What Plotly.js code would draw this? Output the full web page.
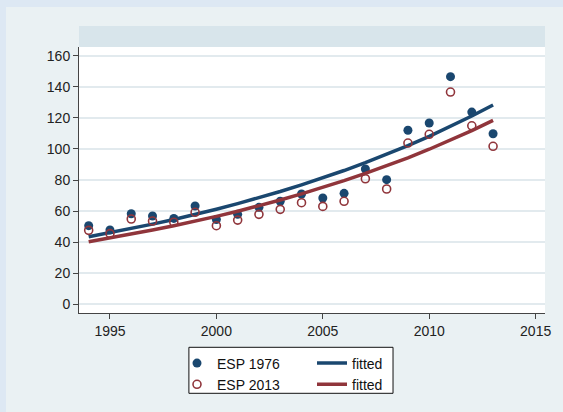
<!DOCTYPE html>
<html>
<head>
<meta charset="utf-8">
<script src="https://cdn.plot.ly/plotly-3.0.1.min.js"></script>
<style>
  html, body { margin: 0; padding: 0; background: #dde8f3; width: 563px; height: 412px; overflow: hidden; }
  #chart { position: absolute; left: 6px; top: 7px; width: 557px; height: 405px; }
</style>
</head>
<body>
<div id="chart"></div>
<script>
// Years of observation
const years = [1994, 1995, 1996, 1997, 1998, 1999, 2000, 2001, 2002, 2003,
               2004, 2005, 2006, 2007, 2008, 2009, 2010, 2011, 2012, 2013];

// Observed series
const esp1976 = [50.6, 47.8, 58.3, 56.8, 55.3, 63.3, 54.6, 57.9, 62.4, 66.3,
                 71.0, 68.4, 71.4, 87.1, 80.2, 112.0, 116.7, 146.5, 123.7, 109.8];
const esp2013 = [47.6, 45.5, 54.9, 53.6, 52.8, 59.2, 50.6, 54.2, 57.9, 61.1,
                 65.4, 63.0, 66.3, 80.8, 74.2, 103.8, 109.4, 136.6, 114.9, 101.7];

// Fitted trend values
const fit1976 = [43.5, 46.1, 48.7, 51.6, 54.6, 57.8, 61.2, 64.8, 68.6, 72.6,
                 76.9, 81.4, 86.1, 91.2, 96.5, 102.1, 108.1, 114.5, 121.2, 128.3];
const fit2013 = [40.3, 42.7, 45.1, 47.8, 50.6, 53.5, 56.6, 59.9, 63.4, 67.1,
                 71.1, 75.2, 79.6, 84.2, 89.1, 94.3, 99.8, 105.7, 111.8, 118.4];

// Axis ticks
const xTicks = [1995, 2000, 2005, 2010, 2015];
const yTicks = [0, 20, 40, 60, 80, 100, 120, 140, 160];

const navy = '#1a476f';
const maroon = '#90353b';
const font = 'Liberation Sans, Arial, sans-serif';

const traces = [
  { x: years, y: esp1976, type: 'scatter', mode: 'markers', name: 'ESP 1976',
    marker: { symbol: 'circle', size: 9, color: navy }, legend: 'legend' },
  { x: years, y: fit1976, type: 'scatter', mode: 'lines', name: 'fitted',
    line: { color: navy, width: 3.5 }, legend: 'legend2' },
  { x: years, y: esp2013, type: 'scatter', mode: 'markers', name: 'ESP 2013',
    marker: { symbol: 'circle-open', size: 8, color: maroon, line: { width: 1.6, color: maroon } },
    legend: 'legend' },
  { x: years, y: fit2013, type: 'scatter', mode: 'lines', name: 'fitted',
    line: { color: maroon, width: 3.5 }, legend: 'legend2' }
];

const W = 557, H = 405;
const legendTop = 347.5 - 7;

const layout = {
  width: W, height: H,
  margin: { l: 73, r: 18, t: 40, b: 99, pad: 0, autoexpand: false },
  paper_bgcolor: '#eaf1f3',
  plot_bgcolor: '#ffffff',
  font: { family: font, size: 14, color: '#222222' },
  showlegend: true,
  xaxis: {
    range: [1993.545, 2015.44],
    tickmode: 'array', tickvals: xTicks, ticktext: xTicks.map(String),
    ticks: 'outside', ticklen: 5, tickwidth: 1, tickcolor: '#444',
    showgrid: false, zeroline: false, automargin: false,
    showline: true, linecolor: '#444', linewidth: 1,
    tickfont: { family: font, size: 14, color: '#222' }
  },
  yaxis: {
    range: [-5.6, 165.6],
    tickmode: 'array', tickvals: yTicks, ticktext: yTicks.map(String),
    ticks: 'outside', ticklen: 5, tickwidth: 1, tickcolor: '#444',
    showgrid: true, gridcolor: '#e2eaee', gridwidth: 2,
    zeroline: false, automargin: false,
    showline: true, linecolor: '#444', linewidth: 1,
    tickfont: { family: font, size: 14, color: '#222' }
  },
  legend: {
    xref: 'container', yref: 'container',
    x: (177 - 6) / W, y: 1 - legendTop / H, xanchor: 'left', yanchor: 'top',
    orientation: 'v', bgcolor: 'rgba(0,0,0,0)', borderwidth: 0,
    font: { family: font, size: 14, color: '#111' }
  },
  legend2: {
    xref: 'container', yref: 'container',
    x: (312 - 6) / W, y: 1 - legendTop / H, xanchor: 'left', yanchor: 'top',
    orientation: 'v', bgcolor: 'rgba(0,0,0,0)', borderwidth: 0,
    font: { family: font, size: 14, color: '#111' }
  },
  shapes: [
    // shaded band above the plot region
    { type: 'rect', xref: 'paper', yref: 'paper', x0: 0, x1: 1, y0: 1, y1: 1 + 21 / 266,
      fillcolor: '#d8e5eb', line: { width: 0 }, layer: 'below' },
    // legend frame
    { type: 'rect', xref: 'paper', yref: 'paper',
      x0: (189 - 79) / 466.4, x1: (393.3 - 79) / 466.4,
      y0: (313 - 393.3) / 266, y1: (313 - 347.3) / 266,
      fillcolor: '#ffffff', line: { color: '#111', width: 1 }, layer: 'below' }
  ]
};

Plotly.newPlot('chart', traces, layout, { displayModeBar: false, staticPlot: true });
</script>
</body>
</html>
